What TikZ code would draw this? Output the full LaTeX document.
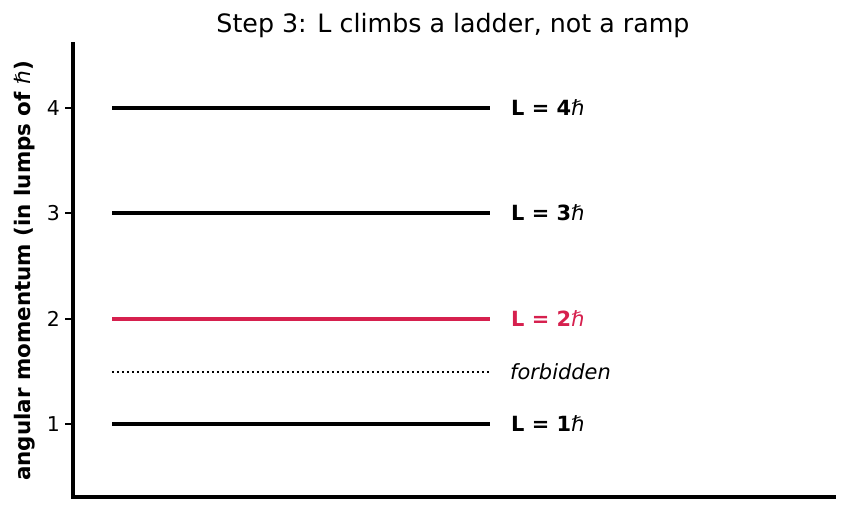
\documentclass[tikz,border=0pt]{standalone}
\usepackage{fontspec}
\setmainfont{DejaVu Sans}
\definecolor{lvlred}{RGB}{214,32,78}
\begin{document}
\begin{tikzpicture}[x=1bp,y=-1bp,
  spine/.style={line width=4bp,line cap=rect},
  level/.style={line width=4.2bp},
  tickmark/.style={line width=1.3bp},
  ticklab/.style={anchor=east,inner sep=0pt,font=\fontsize{20.5}{20.5}\selectfont},
  lvllab/.style={anchor=west,inner sep=0pt,font=\fontsize{21}{21}\selectfont\bfseries}]
\useasboundingbox (0,0) rectangle (846,512);
% axes
\coordinate (otop) at (73,44);
\coordinate (orig) at (73,497);
\coordinate (xend) at (834,497);
\draw[spine] (otop) -- (orig) -- (xend);
% ticks
\foreach \v/\yy in {1/424,2/319,3/213,4/108}{
  \coordinate (t\v) at (73,\yy);
  \coordinate (ts\v) at (65,\yy);
  \draw[tickmark] (t\v) -- (ts\v);
  \node[ticklab] (tl\v) at (60,\yy) {\v};
}
% levels
\coordinate (a1) at (112,424); \coordinate (b1) at (490,424);
\coordinate (a2) at (112,319); \coordinate (b2) at (490,319);
\coordinate (a3) at (112,213); \coordinate (b3) at (490,213);
\coordinate (a4) at (112,108); \coordinate (b4) at (490,108);
\coordinate (af) at (112,372); \coordinate (bf) at (490,372);
\draw[level] (a1) -- (b1);
\draw[level,lvlred] (a2) -- (b2);
\draw[level] (a3) -- (b3);
\draw[level] (a4) -- (b4);
\draw[line width=2bp,dash pattern=on 2bp off 3bp] (af) -- (bf);
% labels
\node[lvllab] (l4) at (511,108) {L = 4{\fontseries{m}\itshape ℏ}};
\node[lvllab] (l3) at (511,213) {L = 3{\fontseries{m}\itshape ℏ}};
\node[lvllab,text=lvlred] (l2) at (511,319) {L = 2{\fontseries{m}\itshape ℏ}};
\node[lvllab] (l1) at (511,424) {L = 1{\fontseries{m}\itshape ℏ}};
\node[anchor=west,inner sep=0pt,font=\fontsize{21}{21}\selectfont\itshape] (lf) at (510,372) {forbidden};
% title
\node[font=\fontsize{25.4}{25.4}\selectfont] (title) at (453,26) {Step 3: L climbs a ladder, not a ramp};
% y label
\node[rotate=90,font=\fontsize{21.5}{21.5}\selectfont\bfseries] (ylab) at (25,271) {angular momentum (in lumps of {\fontseries{m}\itshape ℏ})};
\end{tikzpicture}
\end{document}
